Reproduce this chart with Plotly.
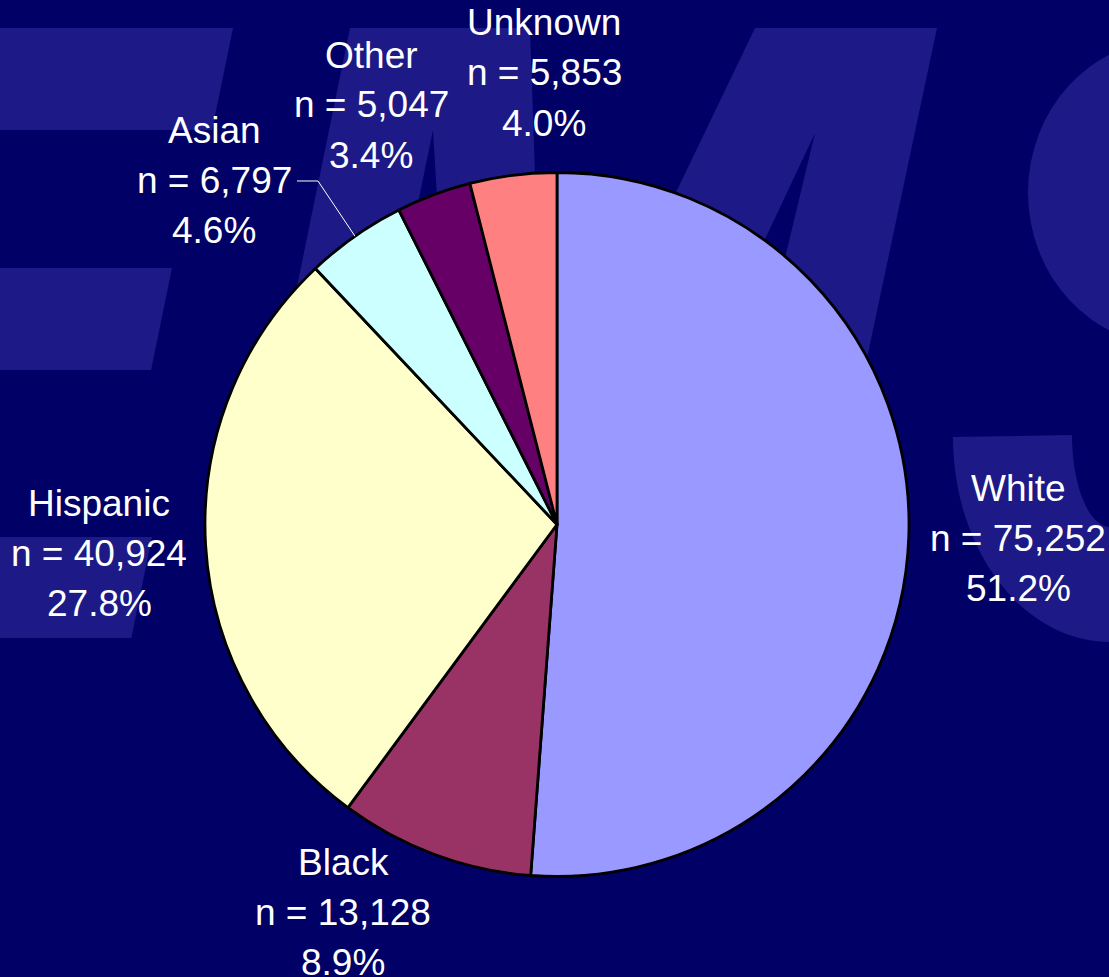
import numpy as np
import plotly.graph_objects as go

# ---- data ----
categories = ["White", "Black", "Hispanic", "Asian", "Other", "Unknown"]
counts = [75252, 13128, 40924, 6797, 5047, 5853]
slice_colors = ["#9999FF", "#993366", "#FFFFCC", "#CCFFFF", "#660066", "#FF8080"]

# ---- layout constants (pixels) ----
W, H = 1109, 977
BG = "#000066"
WM = "#1d1a87"
CX, CY, R = 557, 524.5, 352
FONT = "Liberation Sans, Arial, sans-serif"
FS = 37
LINE_GAP = 50
# centre of the middle text line of each label
label_pos = {
    "White": (1018, 538),
    "Black": (343, 912),
    "Hispanic": (99, 553),
    "Asian": (214, 180),
    "Other": (371, 105),
    "Unknown": (544, 73),
}


def px(x):
    return x / W


def py(y):
    return 1 - y / H


def poly(points):
    s = "M " + " L ".join(f"{px(x):.5f},{py(y):.5f}" for x, y in points) + " Z"
    return s


shapes = []
wm = dict(type="path", xref="paper", yref="paper", fillcolor=WM,
          line=dict(width=0), layer="below")
# watermark "E" arms (italic)
sl = 0.205
for y0, y1, xr in [(28, 130, 233), (268, 370, 172), (537, 638, 152)]:
    shapes.append(dict(wm, path=poly([(-10, y0), (xr, y0), (xr - sl * (y1 - y0), y1), (-10, y1)])))
# watermark "M"
Mb = 620
m_pts = [(350, 28), (530, 28), (545, 465), (755, 28), (937, 28),
         (937 - 0.212 * (Mb - 28), Mb), (815 - 0.24 * (Mb - 133), Mb), (815, 133),
         (815 - 0.47 * (Mb - 133), Mb), (433 + 0.06 * (Mb - 130), Mb), (433, 130),
         (433 - sl * (Mb - 130), Mb), (350 - sl * (Mb - 28), Mb)]
shapes.append(dict(wm, path=poly(m_pts)))
# watermark "S" upper bowl
shapes.append(dict(type="circle", xref="paper", yref="paper", fillcolor=WM,
                   line=dict(width=0), layer="below",
                   x0=px(1028), x1=px(1312), y0=py(40), y1=py(345)))
# watermark "S" lower bowl
t = np.linspace(0, np.pi / 2, 40)
outer = [(1110 - 157 * np.cos(a), 437 + 205 * np.sin(a)) for a in t]
inner = [(1110 - 38 * np.cos(a), 435 + 92 * np.sin(a)) for a in t][::-1]
s_pts = outer + [(1130, 642), (1130, 527)] + inner
shapes.append(dict(wm, path=poly(s_pts)))

# ---- pie ----
fig = go.Figure(go.Pie(
    labels=categories, values=counts, sort=False, direction="clockwise",
    rotation=0, textinfo="none", hoverinfo="skip",
    marker=dict(colors=slice_colors, line=dict(color="black", width=2.8)),
    domain=dict(x=[px(CX - R), px(CX + R)], y=[py(CY + R), py(CY - R)]),
    showlegend=False,
))

# ---- labels ----
total = sum(counts)
annotations = []
for cat, v in zip(categories, counts):
    x, y = label_pos[cat]
    lines = [cat, f"n = {v:,}", f"{100 * v / total:.1f}%"]
    for i, txt in enumerate(lines):
        annotations.append(dict(
            x=px(x), y=py(y + (i - 1) * LINE_GAP), xref="paper", yref="paper",
            text=txt, showarrow=False, xanchor="center", yanchor="middle",
            font=dict(family=FONT, size=FS, color="white")))

# leader line for Asian, ending at the slice's mid-angle on the rim
cum = np.cumsum([0] + counts) / total
i_as = categories.index("Asian")
mid = (cum[i_as] + cum[i_as + 1]) / 2 * 2 * np.pi
ex, ey = CX + R * np.sin(mid), CY - R * np.cos(mid)
ax, ay = label_pos["Asian"]
shapes.append(dict(type="path", xref="paper", yref="paper", layer="above",
                   line=dict(color="white", width=1),
                   path=f"M {px(ax + 83):.5f},{py(ay + 1):.5f} L {px(ax + 104):.5f},{py(ay + 1):.5f} L {px(ex):.5f},{py(ey):.5f}"))

fig.update_layout(
    width=W, height=H, margin=dict(l=0, r=0, t=0, b=0),
    paper_bgcolor=BG, plot_bgcolor=BG,
    shapes=shapes, annotations=annotations,
)
fig.write_html(
    "out.html",
    config={"displayModeBar": False},
    post_script="document.body.style.margin='0';document.body.style.padding='0';"
                "document.body.style.overflow='hidden';document.body.style.background='" + BG + "';",
)
